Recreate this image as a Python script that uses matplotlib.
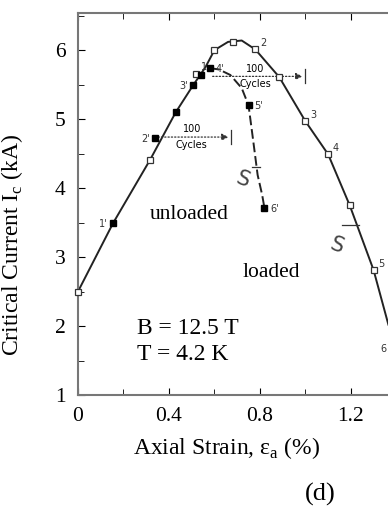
import numpy as np
import matplotlib.pyplot as plt

plt.rcParams['font.family'] = ['Liberation Serif', 'DejaVu Serif']
plt.rcParams['mathtext.fontset'] = 'custom'
plt.rcParams['mathtext.rm'] = 'Liberation Serif'

# loaded curve (solid line, open squares)
load_x = [0.0, 0.154, 0.317, 0.43, 0.506, 0.56, 0.60, 0.66, 0.72, 0.78, 0.885, 1.0, 1.1, 1.195, 1.30, 1.365]
load_y = [2.5, 3.49, 4.41, 5.1, 5.49, 5.75, 6.0, 6.12, 6.14, 6.01, 5.61, 4.97, 4.49, 3.75, 2.81, 2.02]
load_mx = [0.0, 0.317, 0.52, 0.60, 0.68, 0.78, 0.885, 1.0, 1.1, 1.195, 1.30]
load_my = [2.5, 4.41, 5.66, 6.0, 6.12, 6.01, 5.61, 4.97, 4.49, 3.75, 2.81]
load_lab = ['', '', '1', '', '', '2', '', '3', '4', '', '5']

# unloaded curve (dashed line, filled squares)
unl_x = [0.58, 0.62, 0.67, 0.72, 0.75, 0.77, 0.79, 0.81, 0.82]
unl_y = [5.74, 5.72, 5.64, 5.45, 5.2, 4.7, 4.19, 3.9, 3.71]
unl_mx = [0.154, 0.338, 0.43, 0.506, 0.54, 0.58, 0.75, 0.82]
unl_my = [3.49, 4.72, 5.1, 5.49, 5.64, 5.74, 5.2, 3.71]
unl_lab = ["1'", "2'", '', "3'", '', "4'", "5'", "6'"]

fig = plt.figure(figsize=(3.88, 5.17), dpi=100)
ax = fig.add_axes([0.201, 0.236, 0.80, 0.739])

ax.plot(load_x, load_y, color='#222222', lw=1.4)
ax.plot(load_mx, load_my, 's', ms=4.5, mfc='white', mec='#333333', mew=0.9, clip_on=False, zorder=5)
ax.plot(unl_x, unl_y, color='#222222', lw=1.4, ls=(0, (5, 2)))
ax.plot(unl_mx, unl_my, 's', ms=4.5, color='black', zorder=5)

for x, y, t in zip(load_mx, load_my, load_lab):
    if t:
        ax.text(x + 0.02, y + 0.05, t, fontsize=7, color='#333333', family='DejaVu Sans')
for x, y, t in zip(unl_mx, unl_my, unl_lab):
    if t:
        dx = -0.06 if t in ("1'", "2'", "3'") else 0.025
        ax.text(x + dx, y - 0.05, t, fontsize=7, color='#333333', family='DejaVu Sans')
ax.text(1.33, 1.62, '6', fontsize=7, color='#333333', family='DejaVu Sans')

# 100 cycle holds
for x0, x1, y, xt in [(0.34, 0.675, 4.74, 0.50), (0.58, 1.0, 5.62, 0.78)]:
    ax.annotate('', xy=(x1, y), xytext=(x0, y),
                arrowprops=dict(arrowstyle='-|>', color='#333333', lw=0.9, ls=':'))
    ax.plot([x1, x1], [y - 0.1, y + 0.1], color='#333333', lw=0.9)
    ax.text(xt, y + 0.04, '100', fontsize=7, ha='center', va='bottom', family='DejaVu Sans')
    ax.text(xt, y - 0.04, 'Cycles', fontsize=7, ha='center', va='top', family='DejaVu Sans')

# break symbols
for x0, x1, y, tx, ty in [(0.765, 0.80, 4.30, 0.725, 4.12), (1.16, 1.235, 3.46, 1.14, 3.17)]:
    ax.plot([x0, x1], [y, y], color='#333333', lw=0.9)
    ax.text(tx, ty, 'S', fontsize=15, color='#444444', family='DejaVu Sans',
            rotation=-20, ha='center', va='center')

ax.text(0.317, 3.61, 'unloaded', fontsize=15.5, va='center')
ax.text(0.725, 2.78, 'loaded', fontsize=15.5, va='center')
ax.text(0.26, 1.97, 'B = 12.5 T', fontsize=17, va='center')
ax.text(0.26, 1.58, 'T = 4.2 K', fontsize=17, va='center')

ax.set_xlim(0, 1.365)
ax.set_ylim(1, 6.54)
ax.set_xticks([0, 0.4, 0.8, 1.2])
ax.set_xticklabels(['0', '0.4', '0.8', '1.2'])
ax.set_xticks(np.arange(0, 1.4, 0.2), minor=True)
ax.set_yticks([1, 2, 3, 4, 5, 6])
ax.set_yticks(np.arange(1, 6.6, 0.5), minor=True)
ax.tick_params(which='both', direction='in', top=True, labelsize=15.5, pad=9)
ax.tick_params(which='major', length=5)
ax.tick_params(which='minor', length=4)
ax.spines['right'].set_visible(False)
for s in ['left', 'bottom', 'top']:
    ax.spines[s].set_color('#777777')
    ax.spines[s].set_linewidth(1.5)

ax.set_xlabel(r'Axial Strain, ε$_{\rm a}$ (%)', fontsize=17)
ax.xaxis.set_label_coords(0.48, -0.105)
ax.set_ylabel(r'Critical Current I$_{\rm c}$ (kA)', fontsize=17)
ax.yaxis.set_label_coords(-0.171, 0.393)
fig.text(0.825, 0.043, '(d)', fontsize=19, ha='center', va='center')

fig.savefig('out.png', dpi=100)
